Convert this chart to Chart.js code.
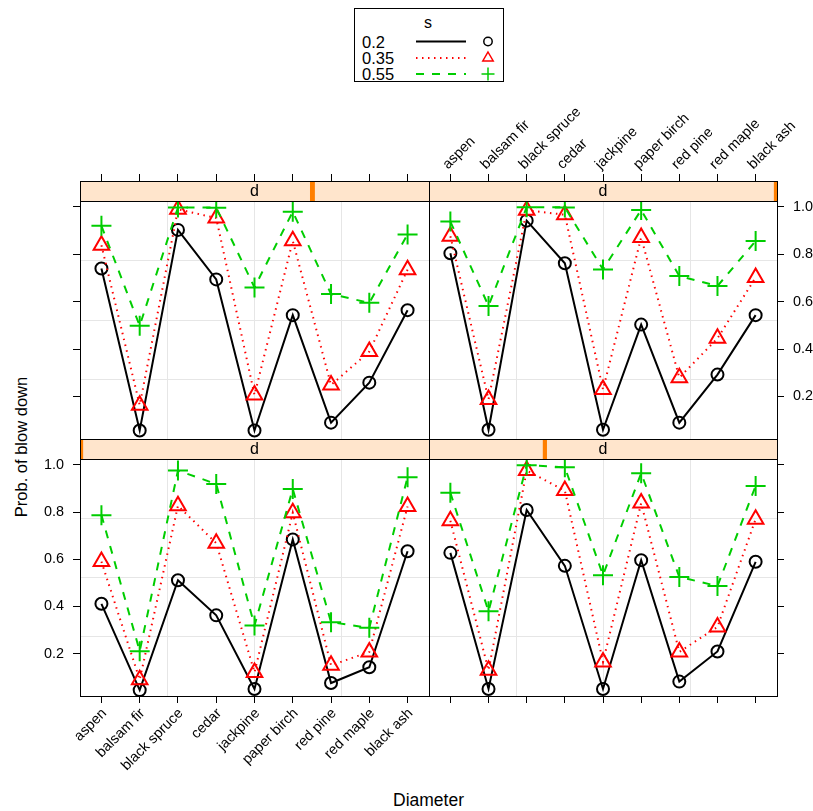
<!DOCTYPE html>
<html>
<head>
<meta charset="utf-8">
<script src="https://cdn.jsdelivr.net/npm/chart.js@4/dist/chart.umd.min.js"></script>
<style>
  html, body { margin: 0; padding: 0; background: #ffffff; }
  #wrap { position: relative; width: 813px; height: 811px; overflow: hidden;
          font-family: "Liberation Sans", Arial, Helvetica, sans-serif; }
  #wrap canvas { position: absolute; left: 0; top: 0; }
  .ttl { position: absolute; white-space: nowrap; color: #000; line-height: 18px; }
  #legend { position: absolute; left: 0; top: 0; }
</style>
</head>
<body>
<div id="wrap">
  <svg id="legend" width="813" height="90"></svg>
  <div class="ttl" id="xtitle"></div>
  <div class="ttl" id="ytitle"></div>
</div>
<script>
// ---------------- data ----------------
const CATEGORIES = ["aspen", "balsam fir", "black spruce", "cedar", "jackpine",
                    "paper birch", "red pine", "red maple", "black ash"];
const SERIES_NAMES = ["0.2", "0.35", "0.55"];
const LEGEND_TITLE = "s";
const STRIP_LABEL = "d";
const X_TITLE = "Diameter";
const Y_TITLE = "Prob. of blow down";
const Y_TICKS = [0.2, 0.4, 0.6, 0.8, 1.0];

// top-left panel
const TL_S020 = [0.740, 0.056, 0.903, 0.694, 0.056, 0.543, 0.089, 0.258, 0.564];
const TL_S035 = [0.838, 0.163, 0.990, 0.953, 0.206, 0.857, 0.248, 0.389, 0.735];
const TL_S055 = [0.920, 0.498, 0.998, 0.997, 0.660, 0.980, 0.632, 0.595, 0.884];
// top-right panel
const TR_S020 = [0.804, 0.059, 0.942, 0.762, 0.059, 0.503, 0.089, 0.292, 0.543];
const TR_S035 = [0.876, 0.187, 0.986, 0.967, 0.229, 0.871, 0.279, 0.445, 0.702];
const TR_S055 = [0.938, 0.582, 0.999, 0.998, 0.736, 0.987, 0.708, 0.666, 0.856];
// bottom-left panel
const BL_S020 = [0.411, 0.045, 0.511, 0.362, 0.050, 0.684, 0.075, 0.142, 0.634];
const BL_S035 = [0.590, 0.089, 0.827, 0.668, 0.120, 0.797, 0.150, 0.207, 0.824];
const BL_S055 = [0.787, 0.210, 0.976, 0.919, 0.319, 0.898, 0.333, 0.309, 0.948];
// bottom-right panel
const BR_S020 = [0.627, 0.050, 0.809, 0.572, 0.050, 0.596, 0.081, 0.209, 0.589];
const BR_S035 = [0.763, 0.129, 0.976, 0.891, 0.164, 0.838, 0.207, 0.313, 0.770];
const BR_S055 = [0.882, 0.379, 0.999, 0.990, 0.532, 0.965, 0.525, 0.486, 0.911];

// shingle level interval shown in each strip (fraction of strip width)
const SHINGLE_TL = [0.659, 0.673];
const SHINGLE_TR = [0.991, 1.000];
const SHINGLE_BL = [0.000, 0.009];
const SHINGLE_BR = [0.327, 0.339];

// ---------------- styles / layout ----------------
const FONT = '"Liberation Sans", Arial, Helvetica, sans-serif';
const COLORS = ["#000000", "#ff0000", "#00cd00"];
const DASHES = [[], [1.5, 4.5], [8, 8]];
const POINT_STYLES = ["circle", "triangle", "cross"];
const POINT_RADII = [6, 9, 10];
const STRIP_BG = "#ffe5cc";
const SHINGLE_COLOR = "#ff7f00";
const GRID_COLOR = "#e6e6e6";
const Y_MIN = 0.02, Y_MAX = 1.025;
const X_MIN = -0.56, X_MAX = 8.56;
const W = 813, H = 811;
const COL_X = [80, 429, 777];
const ROW_Y = [181, 439, 696];
const STRIP_PX = 20;
const TICK_LEN = 7;
const TICK_FONT = 14.4;

const PANELS = [
  { data: [BL_S020, BL_S035, BL_S055], shingle: SHINGLE_BL, col: 0, row: 1, xPos: "bottom", xLab: true,  yPos: "left",  yLab: true  },
  { data: [BR_S020, BR_S035, BR_S055], shingle: SHINGLE_BR, col: 1, row: 1, xPos: "bottom", xLab: false, yPos: "right", yLab: false },
  { data: [TL_S020, TL_S035, TL_S055], shingle: SHINGLE_TL, col: 0, row: 0, xPos: "top",    xLab: false, yPos: "left",  yLab: false },
  { data: [TR_S020, TR_S035, TR_S055], shingle: SHINGLE_TR, col: 1, row: 0, xPos: "top",    xLab: true,  yPos: "right", yLab: true  }
];

const panelFrame = {
  id: "panelFrame",
  afterDatasetsDraw(chart, args, opts) {
    const { ctx, chartArea: a, scales } = chart;
    const yb = Math.round(scales.y.getPixelForValue(Y_MAX));
    const L = Math.round(a.left), R = Math.round(a.right), T = Math.round(a.top), B = Math.round(a.bottom);
    const w = R - L;
    ctx.save();
    ctx.fillStyle = STRIP_BG;
    ctx.fillRect(L, T, w, yb - T);
    ctx.fillStyle = SHINGLE_COLOR;
    ctx.fillRect(L + opts.lo * w, T, Math.max(3, (opts.hi - opts.lo) * w), yb - T);
    ctx.fillStyle = "#000";
    ctx.font = "16px " + FONT;
    ctx.textAlign = "center";
    ctx.textBaseline = "middle";
    ctx.fillText(STRIP_LABEL, (L + R) / 2, (T + yb) / 2 + 1);
    ctx.strokeStyle = "#000";
    ctx.lineWidth = 1;
    ctx.strokeRect(L + 0.5, T + 0.5, w, B - T);
    ctx.beginPath();
    ctx.moveTo(L, yb + 0.5);
    ctx.lineTo(R + 1, yb + 0.5);
    ctx.stroke();
    ctx.restore();
  }
};

function makePanel(p) {
  const cv = document.createElement("canvas");
  cv.width = W; cv.height = H;
  cv.style.width = W + "px"; cv.style.height = H + "px";
  document.getElementById("wrap").appendChild(cv);

  const L = COL_X[p.col], R = COL_X[p.col + 1];
  const T = ROW_Y[p.row], B = ROW_Y[p.row + 1];
  const plotH = B - T - STRIP_PX;
  const yTop = Y_MAX + STRIP_PX * (Y_MAX - Y_MIN) / plotH;

  const padding = {
    left: p.yPos === "left" ? 0 : L,
    right: p.yPos === "right" ? 0 : W - R,
    top: p.xPos === "top" ? 0 : T,
    bottom: p.xPos === "bottom" ? 0 : H - B
  };

  const datasets = SERIES_NAMES.map((name, i) => ({
    label: name,
    data: p.data[i].map((v, j) => ({ x: j, y: v })),
    borderColor: COLORS[i],
    backgroundColor: "transparent",
    borderWidth: 2,
    borderDash: DASHES[i],
    pointStyle: POINT_STYLES[i],
    pointRadius: POINT_RADII[i],
    pointBorderWidth: 2,
    pointBorderColor: COLORS[i],
    pointBackgroundColor: "transparent",
    tension: 0,
    order: 3 - i,
    xAxisID: "x",
    yAxisID: "y"
  }));

  new Chart(cv, {
    type: "line",
    data: { datasets },
    options: {
      responsive: false,
      animation: false,
      devicePixelRatio: 1,
      events: [],
      layout: { padding },
      plugins: {
        legend: { display: false },
        tooltip: { enabled: false },
        panelFrame: { lo: p.shingle[0], hi: p.shingle[1] }
      },
      scales: {
        x: {
          type: "linear",
          position: p.xPos,
          min: X_MIN, max: X_MAX,
          afterBuildTicks: s => { s.ticks = CATEGORIES.map((c, i) => ({ value: i })); },
          afterFit: s => { s.height = p.xPos === "top" ? T : H - B; },
          grid: { drawOnChartArea: false, drawTicks: true, tickLength: TICK_LEN, color: "#000", lineWidth: 1 },
          border: { display: false },
          ticks: {
            display: p.xLab,
            autoSkip: false,
            minRotation: 45, maxRotation: 45,
            padding: p.xPos === "top" ? 1 : 2,
            labelOffset: p.xPos === "top" ? 7 : 3,
            color: "#000",
            font: { family: FONT, size: TICK_FONT },
            callback: v => CATEGORIES[v]
          }
        },
        y: {
          type: "linear",
          position: p.yPos,
          min: Y_MIN, max: yTop,
          afterBuildTicks: s => { s.ticks = Y_TICKS.map(v => ({ value: v })); },
          afterFit: s => { s.width = p.yPos === "left" ? L : W - R; },
          grid: { drawOnChartArea: false, drawTicks: true, tickLength: TICK_LEN, color: "#000", lineWidth: 1 },
          border: { display: false },
          ticks: {
            display: p.yLab,
            padding: 9,
            color: "#000",
            font: { family: FONT, size: TICK_FONT },
            callback: v => Number(v).toFixed(1)
          }
        },
        gx: {
          type: "linear",
          position: p.xPos === "top" ? "bottom" : "top",
          min: 0, max: 4,
          afterBuildTicks: s => { s.ticks = [1, 2, 3].map(v => ({ value: v })); },
          afterFit: s => { s.height = 0; },
          grid: { drawOnChartArea: true, drawTicks: false, color: GRID_COLOR, lineWidth: 1 },
          border: { display: false },
          ticks: { display: false }
        },
        gy: {
          type: "linear",
          position: p.yPos === "left" ? "right" : "left",
          min: Y_MIN, max: yTop,
          afterBuildTicks: s => { s.ticks = [1, 2, 3].map(k => ({ value: Y_MIN + k * (Y_MAX - Y_MIN) / 4 })); },
          afterFit: s => { s.width = 0; },
          grid: { drawOnChartArea: true, drawTicks: false, color: GRID_COLOR, lineWidth: 1 },
          border: { display: false },
          ticks: { display: false }
        }
      }
    },
    plugins: [panelFrame]
  });
}

PANELS.forEach(makePanel);

// ---------------- axis titles ----------------
const xt = document.getElementById("xtitle");
xt.textContent = X_TITLE;
xt.style.fontSize = "17.5px";
xt.style.left = ((COL_X[0] + COL_X[2]) / 2) + "px";
xt.style.top = "800px";
xt.style.transform = "translate(-50%, -50%)";

const yt = document.getElementById("ytitle");
yt.textContent = Y_TITLE;
yt.style.fontSize = "16.5px";
yt.style.left = "21px";
yt.style.top = "447px";
yt.style.transform = "translate(-50%, -50%) rotate(-90deg)";

// ---------------- legend (key) ----------------
(function buildLegend() {
  const svg = document.getElementById("legend");
  const NS = "http://www.w3.org/2000/svg";
  const el = (tag, attrs, text) => {
    const e = document.createElementNS(NS, tag);
    for (const k in attrs) e.setAttribute(k, attrs[k]);
    if (text !== undefined) e.textContent = text;
    svg.appendChild(e);
    return e;
  };
  el("rect", { x: 354.5, y: 8.5, width: 149, height: 73, fill: "#fff", stroke: "#000", "stroke-width": 1 });
  el("text", { x: 428, y: 22, "font-size": 16, "font-family": FONT, "text-anchor": "middle", "dominant-baseline": "central" }, LEGEND_TITLE);
  const rowsY = [41.5, 58, 74];
  SERIES_NAMES.forEach((name, i) => {
    const y = rowsY[i];
    el("text", { x: 362, y: y, "font-size": 16.5, "font-family": FONT, "dominant-baseline": "central" }, name);
    el("line", { x1: 416, y1: y, x2: 466, y2: y, stroke: COLORS[i], "stroke-width": 2,
                 "stroke-dasharray": DASHES[i].length ? DASHES[i].join(" ") : "none" });
    const cx = 488;
    if (POINT_STYLES[i] === "circle") {
      el("circle", { cx, cy: y, r: 4.2, fill: "none", stroke: COLORS[i], "stroke-width": 1.5 });
    } else if (POINT_STYLES[i] === "triangle") {
      const r = 6;
      const pts = [[cx, y - r], [cx + r * 0.866, y + r / 2], [cx - r * 0.866, y + r / 2]].map(q => q.join(",")).join(" ");
      el("polygon", { points: pts, fill: "none", stroke: COLORS[i], "stroke-width": 1.5 });
    } else {
      const r = 6.5;
      el("line", { x1: cx - r, y1: y, x2: cx + r, y2: y, stroke: COLORS[i], "stroke-width": 1.5 });
      el("line", { x1: cx, y1: y - r, x2: cx, y2: y + r, stroke: COLORS[i], "stroke-width": 1.5 });
    }
  });
})();
</script>
</body>
</html>
